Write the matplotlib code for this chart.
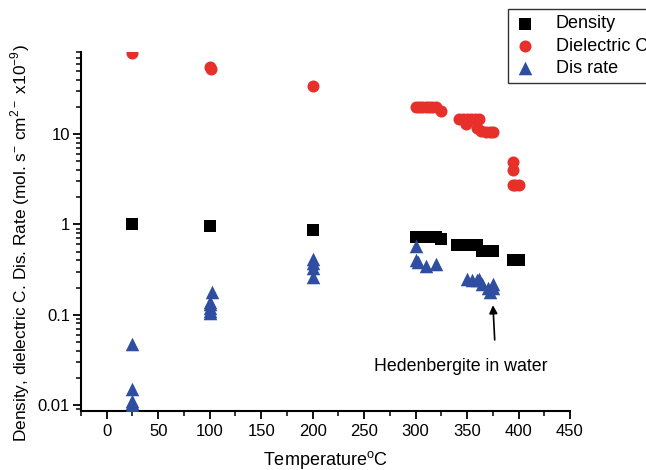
import matplotlib
matplotlib.use("Agg")
import matplotlib.pyplot as plt
from matplotlib.ticker import FixedLocator, LogLocator, NullFormatter, FixedFormatter

plt.rcParams['font.family'] = ['Liberation Sans', 'DejaVu Sans']

dens_T = [25, 100, 200, 300, 305, 310, 315, 320, 325, 340, 345, 350, 355, 360, 365, 370, 375, 395, 400]
dens_v = [1.0, 0.97, 0.87, 0.72, 0.72, 0.72, 0.72, 0.72, 0.69, 0.59, 0.59, 0.59, 0.59, 0.59, 0.51, 0.51, 0.51, 0.40, 0.40]

diel_T = [25, 100, 101, 200, 300, 303, 306, 310, 313, 316, 320, 325,
          342, 346, 350, 354, 358, 362, 349, 360, 364, 368, 372, 375,
          395, 395, 395, 397, 400]
diel_v = [78, 55, 52, 34, 20, 20, 20, 20, 20, 20, 20, 18.2,
          14.8, 14.8, 14.8, 14.8, 14.8, 14.8, 13.0, 11.6, 10.8, 10.6, 10.6, 10.6,
          4.9, 4.0, 2.7, 2.7, 2.7]

dis_T = [25, 25, 25, 25, 25, 100, 100, 100, 100, 100, 102,
         200, 200, 200, 200, 300, 300, 302, 310, 320,
         350, 355, 360, 362, 365, 370, 372, 375, 375]
dis_v = [0.048, 0.015, 0.011, 0.0105, 0.01, 0.105, 0.11, 0.12, 0.13, 0.14, 0.18,
         0.41, 0.37, 0.33, 0.26, 0.58, 0.40, 0.38, 0.35, 0.36,
         0.25, 0.24, 0.24, 0.25, 0.22, 0.20, 0.18, 0.22, 0.20]

x_ticks = [0, 50, 100, 150, 200, 250, 300, 350, 400, 450]
y_ticks = [0.01, 0.1, 1, 10]
y_labels = ['0.01', '0.1', '1', '10']

fig = plt.figure(figsize=(6.46, 4.70), dpi=100)
ax = fig.add_axes([81/646, 1-411/470, (570-81)/646, (411-52)/470])

ax.scatter(dens_T, dens_v, marker='s', s=80, color='black', label='Density', zorder=3, linewidths=0)
ax.scatter(diel_T, diel_v, marker='o', s=75, color='#e8302a', label='Dielectric Constant', zorder=3, linewidths=0)
ax.scatter(dis_T, dis_v, marker='^', s=95, color='#2f4ea2', label='Dis rate', zorder=3, linewidths=0)

ax.set_yscale('log')
ax.set_xlim(-25, 450)
ax.set_ylim(0.0086, 81)
ax.yaxis.set_major_locator(FixedLocator(y_ticks))
ax.yaxis.set_major_formatter(FixedFormatter(y_labels))
ax.yaxis.set_minor_locator(LogLocator(base=10, subs=range(2, 10)))
ax.yaxis.set_minor_formatter(NullFormatter())
ax.set_xticks(x_ticks)
ax.set_xticks([t + 25 for t in [-50] + x_ticks[:-1]], minor=True)

for s in ['top', 'right']:
    ax.spines[s].set_visible(False)
for s in ['left', 'bottom']:
    ax.spines[s].set_linewidth(1.5)
ax.tick_params(which='major', direction='out', length=6, width=1.3, labelsize=12)
ax.tick_params(axis='y', which='major', pad=2)
ax.tick_params(which='minor', direction='out', length=3.5, width=1.1)

ax.set_xlabel('Temperature$^{\\mathregular{o}}$C', fontsize=13, labelpad=7)
ax.set_ylabel('Density, dielectric C. Dis. Rate (mol. s$^{\\mathregular{-}}$ cm$^{\\mathregular{2-}}$ x10$^{\\mathregular{-9}}$)',
              fontsize=12.4)
ax.yaxis.set_label_coords(-0.100, 0.468)

ax.annotate('', xy=(375, 0.137), xytext=(377, 0.049),
            arrowprops=dict(arrowstyle='-|>', color='black', lw=1.2, mutation_scale=12))
ax.text(344, 0.0265, 'Hedenbergite in water', ha='center', va='center', fontsize=12.8)

leg = fig.legend(loc='upper left', bbox_to_anchor=(508/646, 1-9/470), fontsize=13,
                 frameon=True, fancybox=False, edgecolor='black', borderpad=0.35,
                 handlelength=1.2, handletextpad=1.1, labelspacing=0.3, borderaxespad=0)
leg.get_frame().set_linewidth(1.0)

fig.savefig('out.png', dpi=100)
